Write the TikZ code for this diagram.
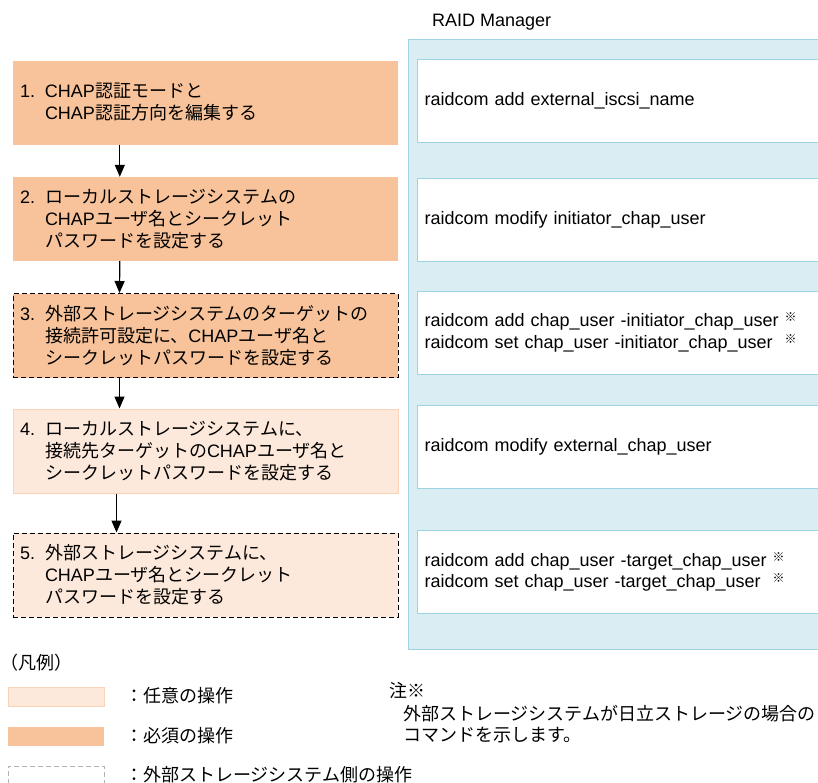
\documentclass[tikz,border=0pt]{standalone}
\usepackage{fontspec}
\setmainfont{Liberation Sans}
\newfontfamily\jp{Noto Sans CJK JP}
\usetikzlibrary{arrows.meta,calc}
\definecolor{mustfill}{HTML}{F8C39A}
\definecolor{optfill}{HTML}{FDE9DB}
\definecolor{optline}{HTML}{FAD3B6}
\definecolor{rmfill}{HTML}{DAEDF3}
\definecolor{rmline}{HTML}{9FD3E3}
\newcommand\lat[1]{{\rmfamily #1}}
\newcommand\stepno[1]{\makebox[25pt][l]{\lat{#1}}}
\newcommand\notemark{\raisebox{5pt}{\jp\fontsize{12}{12}\selectfont ※}}
\tikzset{
  stepbase/.style={minimum height=84pt, text width=371pt, inner sep=7pt, align=left,
    font=\jp\fontsize{18}{22}\selectfont},
  muststep/.style={stepbase, fill=mustfill},
  optstep/.style={stepbase, fill=optfill, draw=optline, line width=1pt},
  extside/.style={draw=black, line width=1pt, dash pattern=on 5pt off 3pt},
  cmdbox/.style={fill=white, draw=rmline, line width=1pt, minimum height=83pt,
    text width=409pt, inner sep=7pt, align=left, anchor=west,
    font=\fontsize{18}{21.5}\selectfont},
  flow/.style={-{Triangle[width=10pt,length=12pt]}, line width=1.2pt},
  legbox/.style={minimum width=96pt, minimum height=19pt, inner sep=0pt},
  legtext/.style={anchor=west, inner sep=0pt, font=\jp\fontsize{18}{21}\selectfont}
}
\begin{document}
\begin{tikzpicture}[x=1pt, y=-1pt]
\useasboundingbox (0,0) rectangle (818,782);
\clip (0,0) rectangle (818,782);
\node[anchor=west, inner sep=0pt, font=\fontsize{18}{21}\selectfont] (rmtitle) at (432,22) {RAID Manager};
\draw[fill=rmfill, draw=rmline, line width=1pt] (408,39) rectangle (860,649);
\node[cmdbox] (c1) at (417,100.5) {raidcom add external\_iscsi\_name};
\node[cmdbox] (c2) at (417,220) {raidcom modify initiator\_chap\_user};
\node[cmdbox] (c3) at (417,332.5) {raidcom add chap\_user -initiator\_chap\_user \notemark\\
  raidcom set chap\_user -initiator\_chap\_user\ \ \notemark};
\node[cmdbox] (c4) at (417,446.5) {raidcom modify external\_chap\_user};
\node[cmdbox] (c5) at (417,572) {raidcom add chap\_user -target\_chap\_user \notemark\\
  raidcom set chap\_user -target\_chap\_user\ \ \notemark};
\node[muststep] (s1) at (205.5,102.5) {\stepno{1.}\lat{CHAP}認証モードと\\
  \stepno{}\lat{CHAP}認証方向を編集する};
\node[muststep] (s2) at (205.5,219) {\stepno{2.}ローカルストレージシステムの\\
  \stepno{}\lat{CHAP}ユーザ名とシークレット\\
  \stepno{}パスワードを設定する};
\node[muststep, extside] (s3) at (205.5,335.5) {\stepno{3.}外部ストレージシステムのターゲットの\\
  \stepno{}接続許可設定に、\lat{CHAP}ユーザ名と\\
  \stepno{}シークレットパスワードを設定する};
\node[optstep] (s4) at (205.5,451) {\stepno{4.}ローカルストレージシステムに、\\
  \stepno{}接続先ターゲットの\lat{CHAP}ユーザ名と\\
  \stepno{}シークレットパスワードを設定する};
\node[optstep, extside] (s5) at (205.5,575) {\stepno{5.}外部ストレージシステムに、\\
  \stepno{}\lat{CHAP}ユーザ名とシークレット\\
  \stepno{}パスワードを設定する};
\draw[flow] ([xshift=107pt]s1.south west) -- ([xshift=107pt]s2.north west);
\draw[flow] ([xshift=107pt]s2.south west) -- ([xshift=107pt]s3.north west);
\draw[flow] ([xshift=107pt]s3.south west) -- ([xshift=107pt]s4.north west);
\draw[flow] ([xshift=104pt]s4.south west) -- ([xshift=104pt]s5.north west);
\node[legtext] (legtitle) at (0,663) {（凡例）};
\node[legbox, fill=optfill, draw=optline, line width=1pt] (kopt) at (56,696.5) {};
\node[legbox, fill=mustfill] (kmust) at (56,736.5) {};
\node[legbox, draw=gray!60, line width=1pt, dash pattern=on 5pt off 3pt] (kext) at (56,775.5) {};
\node[legtext] (topt) at (125,696) {：任意の操作};
\node[legtext] (tmust) at (125,736) {：必須の操作};
\node[legtext] (text) at (125,775) {：外部ストレージシステム側の操作};
\node[legtext] (nhead) at (389,691) {注※};
\node[legtext, anchor=north west, align=left] (nbody) at (403,705) {外部ストレージシステムが日立ストレージの場合の\\
  コマンドを示します。};
\end{tikzpicture}
\end{document}
